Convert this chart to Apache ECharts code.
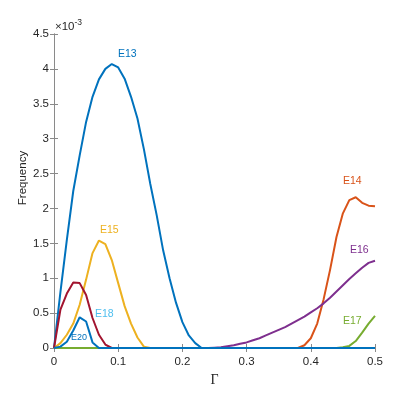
<!DOCTYPE html>
<html>
<head>
<meta charset="utf-8">
<script src="https://cdn.jsdelivr.net/npm/echarts@6/dist/echarts.min.js"></script>
<style>
html, body { margin: 0; padding: 0; background: #fff; }
#main { width: 399px; height: 399px; }
</style>
</head>
<body>
<div id="main"></div>
<script>
// Gamma sample points
var gamma = [0, 0.01, 0.02, 0.03, 0.04, 0.05, 0.06, 0.07, 0.08, 0.09,
    0.10, 0.11, 0.12, 0.13, 0.14, 0.15, 0.16, 0.17, 0.18, 0.19,
    0.20, 0.21, 0.22, 0.23, 0.24, 0.25, 0.26, 0.27, 0.28, 0.29,
    0.30, 0.31, 0.32, 0.33, 0.34, 0.35, 0.36, 0.37, 0.38, 0.39,
    0.40, 0.41, 0.42, 0.43, 0.44, 0.45, 0.46, 0.47, 0.48, 0.49, 0.50];

// frequencies, in units of 1e-3
var e13 = [0, 0.80, 1.55, 2.25, 2.76, 3.24, 3.60, 3.85, 4.00, 4.07,
    4.02, 3.86, 3.60, 3.29, 2.85, 2.35, 1.90, 1.40, 1.00, 0.65,
    0.37, 0.18, 0.07, 0, 0, 0, 0, 0, 0, 0,
    0, 0, 0, 0, 0, 0, 0, 0, 0, 0,
    0, 0, 0, 0, 0, 0, 0, 0, 0, 0, 0];
var e14 = [0, 0, 0, 0, 0, 0, 0, 0, 0, 0,
    0, 0, 0, 0, 0, 0, 0, 0, 0, 0,
    0, 0, 0, 0, 0, 0, 0, 0, 0, 0,
    0, 0, 0, 0, 0, 0, 0, 0, 0, 0.04,
    0.14, 0.35, 0.70, 1.12, 1.59, 1.93, 2.12, 2.16, 2.08, 2.04, 2.03];
var e15 = [0, 0.07, 0.19, 0.35, 0.62, 0.98, 1.36, 1.54, 1.49, 1.26,
    0.93, 0.60, 0.35, 0.15, 0.02, 0, 0, 0, 0, 0,
    0, 0, 0, 0, 0, 0, 0, 0, 0, 0,
    0, 0, 0, 0, 0, 0, 0, 0, 0, 0,
    0, 0, 0, 0, 0, 0, 0, 0, 0, 0, 0];
var e16 = [0, 0, 0, 0, 0, 0, 0, 0, 0, 0,
    0, 0, 0, 0, 0, 0, 0, 0, 0, 0,
    0, 0, 0, 0, 0, 0.005, 0.01, 0.025, 0.04, 0.06,
    0.08, 0.11, 0.14, 0.18, 0.22, 0.26, 0.30, 0.35, 0.40, 0.45,
    0.51, 0.57, 0.64, 0.72, 0.81, 0.90, 0.99, 1.07, 1.15, 1.22, 1.25];
var e17 = [0, 0, 0, 0, 0, 0, 0, 0, 0, 0,
    0, 0, 0, 0, 0, 0, 0, 0, 0, 0,
    0, 0, 0, 0, 0, 0, 0, 0, 0, 0,
    0, 0, 0, 0, 0, 0, 0, 0, 0, 0,
    0, 0, 0, 0, 0, 0.01, 0.03, 0.10, 0.22, 0.35, 0.46];
var e18 = [0, 0, 0, 0, 0, 0, 0, 0, 0, 0,
    0, 0, 0, 0, 0, 0, 0, 0, 0, 0,
    0, 0, 0, 0, 0, 0, 0, 0, 0, 0,
    0, 0, 0, 0, 0, 0, 0, 0, 0, 0,
    0, 0, 0, 0, 0, 0, 0, 0, 0, 0, 0];
var e19 = [0, 0.55, 0.78, 0.94, 0.93, 0.76, 0.43, 0.19, 0.05, 0,
    0, 0, 0, 0, 0, 0, 0, 0, 0, 0,
    0, 0, 0, 0, 0, 0, 0, 0, 0, 0,
    0, 0, 0, 0, 0, 0, 0, 0, 0, 0,
    0, 0, 0, 0, 0, 0, 0, 0, 0, 0, 0];
var e20 = [0, 0.02, 0.09, 0.25, 0.44, 0.38, 0.08, 0, 0, 0,
    0, 0, 0, 0, 0, 0, 0, 0, 0, 0,
    0, 0, 0, 0, 0, 0, 0, 0, 0, 0,
    0, 0, 0, 0, 0, 0, 0, 0, 0, 0,
    0, 0, 0, 0, 0, 0, 0, 0, 0, 0, 0];

var xTicks = [0, 0.1, 0.2, 0.3, 0.4, 0.5];
var yTicks = [0, 0.5, 1, 1.5, 2, 2.5, 3, 3.5, 4, 4.5];

// drawing order matters: green E17 sits on the blue ones near 0, E20 covers the rest of the floor
var seriesList = [
    { name: 'E13', data: e13, color: '#0072BD' },
    { name: 'E14', data: e14, color: '#D95319' },
    { name: 'E15', data: e15, color: '#EDB120' },
    { name: 'E16', data: e16, color: '#7E2F8E' },
    { name: 'E18', data: e18, color: '#4DBEEE' },
    { name: 'E19', data: e19, color: '#A2142F' },
    { name: 'E17', data: e17, color: '#77AC30' },
    { name: 'E20', data: e20, color: '#0072BD' }
];

// --------------------------------------------------------------------------------------------------------------------
function toPairs(values) {
    var out = [];
    for (var i = 0; i < gamma.length; i++) {
        out.push([gamma[i], values[i]]);
    }
    return out;
}

var axisGray = '#8a8a8a';
var textGray = '#262626';
var font = '"Liberation Sans", Arial, sans-serif';

function fmt(v) {
    return String(parseFloat(v.toFixed(2)));
}

var series = seriesList.map(function (s, i) {
    return {
        name: s.name,
        type: 'line',
        data: toPairs(s.data),
        symbol: 'none',
        z: 2 + i,
        lineStyle: { color: s.color, width: 2 },
        itemStyle: { color: s.color },
        animation: false
    };
});

function label(text, x, y, color, size) {
    return {
        type: 'text', left: x, top: y, z: 20,
        style: { text: text, fontFamily: font, fontSize: size || 10.5, fill: color }
    };
}

var chart = echarts.init(document.getElementById('main'));
chart.setOption({
    animation: false,
    grid: { left: 54, right: 24, top: 34, bottom: 51, containLabel: false },
    xAxis: [{
        type: 'value', min: xTicks[0], max: xTicks[xTicks.length - 1], interval: 0.1,
        name: '\u0393', nameLocation: 'middle', nameGap: 24,
        nameTextStyle: { fontFamily: '"Liberation Serif", "Times New Roman", serif', fontSize: 14, color: textGray },
        axisLine: { lineStyle: { color: axisGray, width: 1 } },
        axisTick: { inside: true, length: 4, lineStyle: { color: axisGray } },
        axisLabel: { color: textGray, fontFamily: font, fontSize: 11.5, margin: 8, formatter: fmt },
        splitLine: { show: false }
    }, {
        type: 'value', position: 'top', min: 0, max: 0.5, interval: 0.1,
        axisLine: { show: true, lineStyle: { color: axisGray, width: 1 } },
        axisTick: { inside: true, length: 4, lineStyle: { color: axisGray } },
        axisLabel: { show: false },
        splitLine: { show: false }
    }],
    yAxis: [{
        type: 'value', min: yTicks[0], max: yTicks[yTicks.length - 1], interval: 0.5,
        axisLine: { show: true, lineStyle: { color: axisGray, width: 1 } },
        axisTick: { show: true, inside: true, length: 4, lineStyle: { color: axisGray } },
        axisLabel: { color: textGray, fontFamily: font, fontSize: 11.5, margin: 5, formatter: fmt },
        splitLine: { show: false }
    }, {
        type: 'value', position: 'right', min: 0, max: 4.5, interval: 0.5,
        axisLine: { show: true, lineStyle: { color: axisGray, width: 1 } },
        axisTick: { show: true, inside: true, length: 4, lineStyle: { color: axisGray } },
        axisLabel: { show: false },
        splitLine: { show: false }
    }],
    series: series,
    graphic: [
        {
            type: 'text', x: 23, y: 178, rotation: Math.PI / 2, z: 20,
            style: { text: 'Frequency', fontFamily: font, fontSize: 11.5, fill: textGray, align: 'center', verticalAlign: 'middle' }
        },
        {
            type: 'text', left: 55, top: 18, z: 20,
            style: {
                text: '{a|\u00d710}{b|-3}',
                rich: {
                    a: { fontFamily: font, fontSize: 11.5, fill: textGray, verticalAlign: 'bottom', lineHeight: 14 },
                    b: { fontFamily: font, fontSize: 8.5, fill: textGray, verticalAlign: 'top', padding: [0, 0, 6, 0] }
                }
            }
        },
        label('E13', 118, 49, '#0072BD'),
        label('E14', 343, 176, '#D95319'),
        label('E15', 100, 225, '#EDB120'),
        label('E16', 350, 245, '#7E2F8E'),
        label('E17', 343, 316, '#77AC30'),
        label('E18', 95, 309, '#4DBEEE'),
        label('E20', 71, 333, '#0072BD', 9)
    ]
});
</script>
</body>
</html>
